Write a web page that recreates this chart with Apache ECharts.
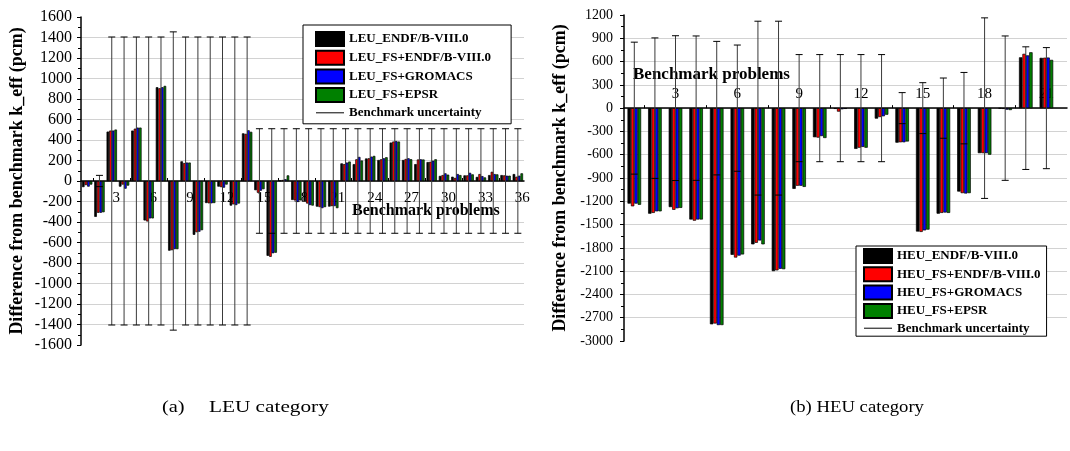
<!DOCTYPE html>
<html>
<head>
<meta charset="utf-8">
<script src="https://cdn.jsdelivr.net/npm/echarts@6.0.0/dist/echarts.min.js"></script>
<style>
  html, body { margin: 0; padding: 0; background: #fff; }
  #main { width: 1070px; height: 451px; }
</style>
</head>
<body>
<div id="main"></div>
<script>
// ---- data ----
const leuProblems = [1,2,3,4,5,6,7,8,9,10,11,12,13,14,15,16,17,18,19,20,21,22,23,24,25,26,27,28,29,30,31,32,33,34,35,36];
const leuEndf    = [-60,-350,482,-55,492,-385,915,-680,192,-525,-215,-55,-240,465,-90,-730,5,-185,-200,-250,-250,172,165,220,205,375,205,165,185,50,42,55,40,58,58,68];
const leuFsEndf  = [-40,-310,492,-35,511,-395,905,-675,175,-500,-218,-60,-228,460,-115,-740,10,-190,-220,-255,-245,165,212,222,212,385,215,210,188,58,30,55,68,90,55,42];
const leuGromacs = [-55,-310,492,-75,521,-365,915,-665,180,-495,-218,-65,-235,495,-95,-705,18,-205,-235,-265,-245,180,235,238,222,390,222,212,198,75,68,80,48,68,52,52];
const leuEpsr    = [-35,-305,502,-45,521,-365,928,-665,180,-480,-215,-35,-220,480,-80,-700,55,-190,-240,-255,-265,190,200,245,232,385,212,210,212,62,58,65,35,65,52,75];
const leuUnc     = [0,55,1405,1405,1405,1405,1405,1455,1405,1405,1405,1405,1405,1405,510,510,510,510,510,510,510,510,510,510,510,510,510,510,510,510,510,510,510,510,510,510];
const leuTickLabels = [3,6,9,12,15,18,21,24,27,30,33,36];

const heuProblems = [1,2,3,4,5,6,7,8,9,10,11,12,13,14,15,16,17,18,19,20,21];
const heuEndf    = [-1230,-1360,-1275,-1435,-2785,-1890,-1755,-2100,-1040,-375,-10,-525,-135,-445,-1590,-1360,-1075,-580,-5,655,648];
const heuFsEndf  = [-1265,-1350,-1310,-1450,-2775,-1925,-1735,-2090,-1000,-380,-45,-510,-115,-440,-1595,-1350,-1095,-580,-10,700,650];
const heuGromacs = [-1230,-1330,-1290,-1435,-2795,-1900,-1705,-2070,-1000,-360,-15,-500,-105,-440,-1575,-1345,-1100,-580,-20,680,652];
const heuEpsr    = [-1245,-1330,-1285,-1435,-2795,-1885,-1755,-2075,-1015,-385,-10,-510,-85,-430,-1565,-1350,-1095,-600,-25,720,622];
const heuUnc     = [850,905,933,930,860,813,1120,1120,690,690,690,690,690,200,328,388,460,1163,930,790,780];
const heuTickLabels = [3,6,9,12,15,18,21];

const SERIF = '"Liberation Serif","Times New Roman",serif';
const COLORS = ['#000000', '#ff0000', '#0000ff', '#008000'];
const UNC = 'Benchmark uncertainty';
// thin horizontal line icon, 28x14 box
const LINE_ICON = 'path://M0,0 M0,6.5 L28,6.5 L28,7.5 L0,7.5 Z M28,14';

var myChart = echarts.init(document.getElementById('main'));

function barSeries(name, xs, values, idx, color, width) {
    return {
        name: name,
        type: 'bar',
        xAxisIndex: idx,
        yAxisIndex: idx,
        barWidth: width,
        barGap: '0%',
        itemStyle: { color: color, borderColor: '#000', borderWidth: 0.7 },
        data: xs.map((x, i) => [x, values[i]])
    };
}

function errSeries(xs, unc, idx) {
    return {
        name: UNC,
        type: 'custom',
        xAxisIndex: idx,
        yAxisIndex: idx,
        z: 5,
        itemStyle: { color: '#000' },
        renderItem: function (params, api) {
            const x = api.value(0), e = api.value(1);
            if (!e) return;
            const top = api.coord([x, e]);
            const bot = api.coord([x, -e]);
            const w = 3.5;
            return {
                type: 'group',
                children: [
                    { type: 'line', shape: { x1: top[0], y1: top[1], x2: bot[0], y2: bot[1] }, style: { stroke: '#3a3a3a', lineWidth: 1 } },
                    { type: 'line', shape: { x1: top[0] - w, y1: top[1], x2: top[0] + w, y2: top[1] }, style: { stroke: '#000', lineWidth: 1 } },
                    { type: 'line', shape: { x1: bot[0] - w, y1: bot[1], x2: bot[0] + w, y2: bot[1] }, style: { stroke: '#000', lineWidth: 1 } }
                ]
            };
        },
        data: xs.map((x, i) => [x, unc[i]])
    };
}

function xAxisOpt(idx, max, labels, inside, margin, pad) {
    return {
        type: 'value',
        gridIndex: idx,
        min: 0.5,
        max: max,
        axisLine: { onZero: false, lineStyle: { color: '#000', width: 1.5 } },
        axisTick: { show: true, inside: true, length: 3, customValues: labels.map(v => v - 1.5), lineStyle: { color: '#000' } },
        axisLabel: { customValues: labels, inside: inside, margin: margin, padding: pad, fontSize: 15, color: '#000', fontFamily: SERIF },
        splitLine: { show: false }
    };
}

function yAxisOpt(idx, min, max, interval, labelSize, margin) {
    return {
        type: 'value',
        gridIndex: idx,
        min: min,
        max: max,
        interval: interval,
        name: 'Difference from benchmark k_eff (pcm)',
        nameLocation: 'middle',
        nameGap: 55,
        nameTextStyle: { fontSize: 18, fontWeight: 'bold', fontFamily: SERIF, color: '#000' },
        axisLine: { show: true, onZero: false, lineStyle: { color: '#000', width: 1.5 } },
        axisTick: { show: true, length: 4, lineStyle: { color: '#000' } },
        minorTick: { show: true, splitNumber: 2, length: 3, lineStyle: { color: '#000' } },
        splitLine: { show: true, showMinLine: false, showMaxLine: false, lineStyle: { color: '#d2d2d2', width: 1.2 } },
        axisLabel: { fontSize: labelSize, margin: margin, color: '#000', fontFamily: SERIF, formatter: v => String(v) }
    };
}

const leuNames = ['LEU_ENDF/B-VIII.0', 'LEU_FS+ENDF/B-VIII.0', 'LEU_FS+GROMACS', 'LEU_FS+EPSR'];
const heuNames = ['HEU_ENDF/B-VIII.0', 'HEU_FS+ENDF/B-VIII.0', 'HEU_FS+GROMACS', 'HEU_FS+EPSR'];

function legendOpt(names, left, top, gap, padding) {
    return {
        orient: 'vertical',
        left: left,
        top: top,
        itemWidth: 28,
        itemHeight: 14,
        itemGap: gap,
        padding: padding,
        borderColor: '#000',
        borderWidth: 1,
        backgroundColor: '#fff',
        selectedMode: false,
        textStyle: { fontFamily: SERIF, fontWeight: 'bold', fontSize: 13, color: '#000' },
        data: names.map(n => ({ name: n, icon: 'rect' })).concat([{ name: UNC, icon: LINE_ICON, itemStyle: { color: '#000', borderWidth: 0 } }])
    };
}

var option = {
    animation: false,
    backgroundColor: '#fff',
    grid: [
        { left: 81, top: 17, width: 443, height: 328 },
        { left: 624, top: 15, width: 443, height: 326 }
    ],
    xAxis: [
        xAxisOpt(0, 36.5, leuTickLabels, false, 10, [0, 0, 0, 9]),
        xAxisOpt(1, 22, heuTickLabels, true, 7, 0)
    ],
    yAxis: [
        yAxisOpt(0, -1600, 1600, 200, 16, 9),
        yAxisOpt(1, -3000, 1200, 300, 14, 11)
    ],
    legend: [
        legendOpt(leuNames, 303, 25, 2.7, [6, 20, 4, 12]),
        legendOpt(heuNames, 856, 246, 2.3, [2, 6, 1, 7])
    ],
    series: [
        barSeries(leuNames[0], leuProblems, leuEndf, 0, COLORS[0], 2.6),
        barSeries(leuNames[1], leuProblems, leuFsEndf, 0, COLORS[1], 2.6),
        barSeries(leuNames[2], leuProblems, leuGromacs, 0, COLORS[2], 2.6),
        barSeries(leuNames[3], leuProblems, leuEpsr, 0, COLORS[3], 2.6),
        errSeries(leuProblems, leuUnc, 0),
        barSeries(heuNames[0], heuProblems, heuEndf, 1, COLORS[0], 3.4),
        barSeries(heuNames[1], heuProblems, heuFsEndf, 1, COLORS[1], 3.4),
        barSeries(heuNames[2], heuProblems, heuGromacs, 1, COLORS[2], 3.4),
        barSeries(heuNames[3], heuProblems, heuEpsr, 1, COLORS[3], 3.4),
        errSeries(heuProblems, heuUnc, 1)
    ],
    graphic: [
        { type: 'text', left: 352, top: 203, style: { text: 'Benchmark problems', font: 'bold 16px ' + SERIF, fill: '#000' } },
        { type: 'text', left: 633, top: 66, style: { text: 'Benchmark problems', font: 'bold 17px ' + SERIF, fill: '#000' } },
        { type: 'text', left: 162, top: 399, scaleX: 1.2, style: { text: '(a)', font: '17px ' + SERIF, fill: '#000' } },
        { type: 'text', left: 209, top: 399, scaleX: 1.25, style: { text: 'LEU category', font: '17px ' + SERIF, fill: '#000' } },
        { type: 'text', left: 790, top: 399, scaleX: 1.1, style: { text: '(b) HEU category', font: '17px ' + SERIF, fill: '#000' } }
    ]
};
myChart.setOption(option);

// move each x axis (line, ticks, labels) onto the y = 0 line
function zeroOffset(idx, yMin) {
    const zero = myChart.convertToPixel({ yAxisIndex: idx }, 0);
    const bottom = myChart.convertToPixel({ yAxisIndex: idx }, yMin);
    return zero - bottom;
}
myChart.setOption({
    xAxis: [
        { offset: zeroOffset(0, -1600) },
        { offset: zeroOffset(1, -3000) }
    ]
});

window.addEventListener('resize', function () {
    myChart.resize();
});
</script>
</body>
</html>
